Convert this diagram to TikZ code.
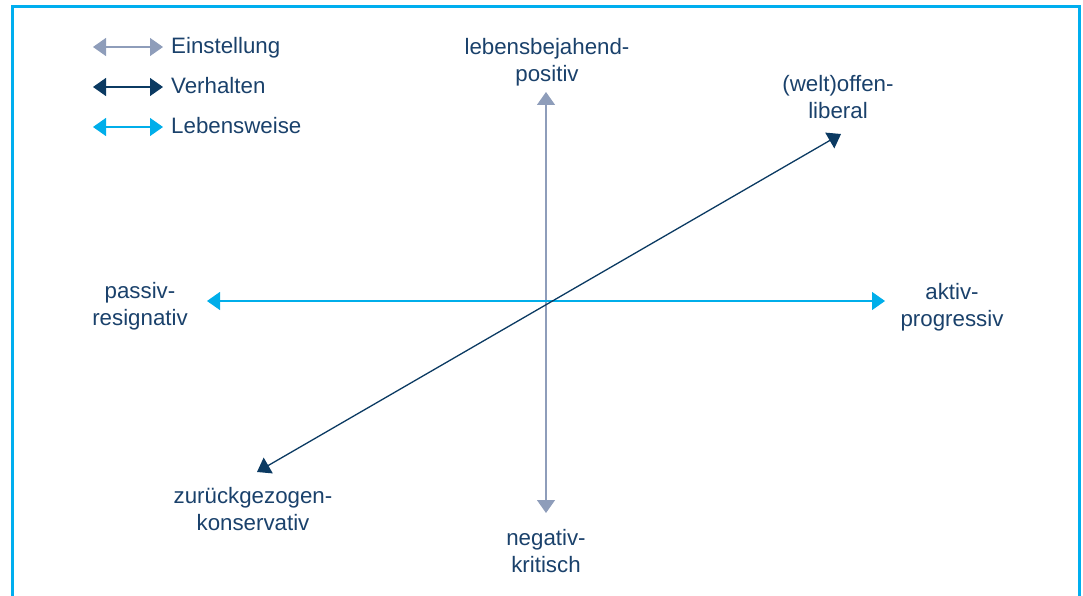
\documentclass[tikz,border=0pt]{standalone}
\usepackage{fontspec}
\setmainfont{Liberation Sans}
\usetikzlibrary{arrows.meta}

\definecolor{einst}{HTML}{8E9DBA}
\definecolor{verh}{HTML}{0B3A62}
\definecolor{leben}{HTML}{00AEEA}
\definecolor{labeltext}{HTML}{1A416B}
\definecolor{frame}{HTML}{00AEEF}

\tikzset{
  axisline/.style={line width=1.3pt, {Triangle[length=13pt,width=18pt]}-{Triangle[length=13pt,width=18pt]}},
  % anchor=base sits on the baseline of the last line
  lbl/.style={inner sep=0pt, align=center, anchor=base, text=labeltext,
    font=\fontsize{22.3}{27}\selectfont},
  legendlbl/.style={inner sep=0pt, anchor=base west, text=labeltext,
    font=\fontsize{22.3}{27}\selectfont},
}

\begin{document}
\begin{tikzpicture}[x=1pt,y=-1pt]
  \useasboundingbox (0,0) rectangle (1083,596);
  \clip (0,0) rectangle (1083,596);

  % outer frame, open at the bottom
  \draw[frame, line width=3pt] (12,610) -- (12,7) -- (1079,7) -- (1079,610);

  % legend
  \coordinate (e1) at (93,47);  \coordinate (e2) at (163,47);
  \coordinate (v1) at (93,87);  \coordinate (v2) at (163,87);
  \coordinate (l1) at (93,127); \coordinate (l2) at (163,127);
  \draw[axisline, einst] (e1) -- (e2);
  \draw[axisline, verh]  (v1) -- (v2);
  \draw[axisline, leben] (l1) -- (l2);
  \node[legendlbl] (le) at (171,54)  {Einstellung};
  \node[legendlbl] (lv) at (171,94)  {Verhalten};
  \node[legendlbl] (ll) at (171,134) {Lebensweise};

  % axis end points
  \coordinate (top)    at (546,92);
  \coordinate (bottom) at (546,513);
  \coordinate (left)   at (207,301);
  \coordinate (right)  at (885,301);
  \coordinate (sw)     at (257,472);
  \coordinate (ne)     at (841,134);

  % axes
  \draw[axisline, einst] (bottom) -- (top);
  \draw[axisline, leben] (left) -- (right);
  \draw[axisline, verh]  (sw) -- (ne);

  % axis labels
  \node[lbl] (pos)  at (547,82)  {lebensbejahend-\\positiv};
  \node[lbl] (neg)  at (546,572) {negativ-\\kritisch};
  \node[lbl] (pas)  at (140,325) {passiv-\\resignativ};
  \node[lbl] (akt)  at (952,326) {aktiv-\\progressiv};
  \node[lbl] (lib)  at (838,119) {(welt)offen-\\liberal};
  \node[lbl] (kon)  at (253,530) {zurückgezogen-\\konservativ};
\end{tikzpicture}
\end{document}
